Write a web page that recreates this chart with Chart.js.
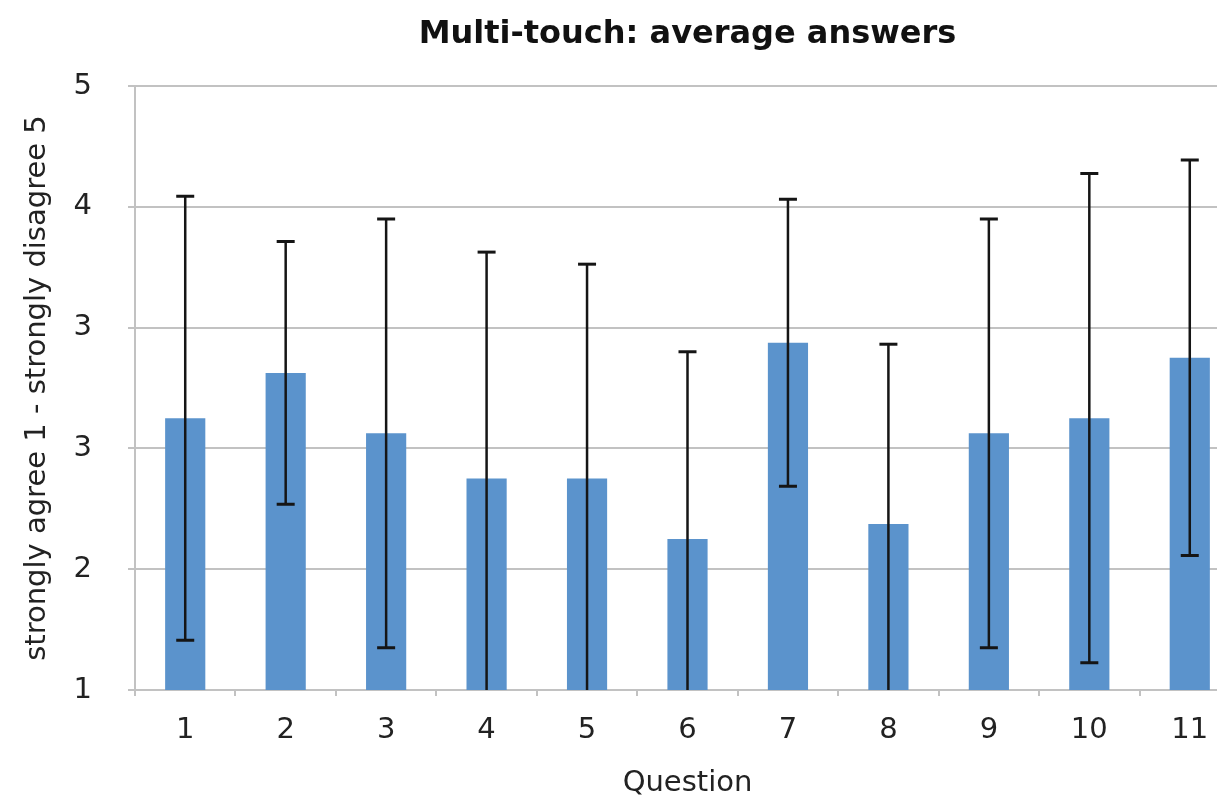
<!DOCTYPE html>
<html lang="en">
<head>
    <meta charset="UTF-8">
    <title>Multi-touch: average answers</title>
    <script src="https://cdn.jsdelivr.net/npm/chart.js"></script>
    <style>
        html, body { margin: 0; padding: 0; background: #fff; overflow: hidden; }
        canvas { display: block; }
    </style>
</head>
<body>
    <canvas id="answersChart" width="1242" height="798"></canvas>

    <script>
        // data
        const questions = ['1', '2', '3', '4', '5', '6', '7', '8', '9', '10', '11'];
        const averages = [2.8, 3.1, 2.7, 2.4, 2.4, 2.0, 3.3, 2.1, 2.7, 2.8, 3.2];
        const stdDev = [1.47, 0.87, 1.42, 1.50, 1.42, 1.24, 0.95, 1.19, 1.42, 1.62, 1.31];
        const yTickLabels = ['1', '2', '3', '3', '4', '5'];

        const chartTitle = 'Multi-touch: average answers';
        const fontFamily = '"DejaVu Sans", sans-serif';
        const textColor = '#222';
        const gridColor = '#c2c2c2';

        // title centred over the plot area
        const titlePlugin = {
            id: 'plotTitle',
            afterDraw(chart) {
                const { ctx, chartArea } = chart;
                ctx.save();
                ctx.font = 'bold 32px ' + fontFamily;
                ctx.fillStyle = '#111';
                ctx.textAlign = 'center';
                ctx.textBaseline = 'alphabetic';
                ctx.fillText(chartTitle, (chartArea.left + chartArea.right) / 2, 43);
                ctx.restore();
            }
        };

        // +/- one standard deviation
        const errorBars = {
            id: 'errorBars',
            afterDatasetsDraw(chart) {
                const { ctx, chartArea, scales } = chart;
                const meta = chart.getDatasetMeta(0);
                ctx.save();
                ctx.beginPath();
                ctx.rect(chartArea.left, chartArea.top - 20, chartArea.width, chartArea.height + 20);
                ctx.clip();
                ctx.strokeStyle = '#151515';
                ctx.lineWidth = 2.5;
                meta.data.forEach((bar, i) => {
                    const x = bar.x;
                    const top = scales.y.getPixelForValue(averages[i] + stdDev[i]);
                    const bottom = scales.y.getPixelForValue(averages[i] - stdDev[i]);
                    ctx.beginPath();
                    ctx.moveTo(x, top);
                    ctx.lineTo(x, Math.min(bottom, chartArea.bottom));
                    ctx.stroke();
                    ctx.lineWidth = 3;
                    ctx.beginPath();
                    ctx.moveTo(x - 9, top);
                    ctx.lineTo(x + 9, top);
                    if (bottom <= chartArea.bottom) {
                        ctx.moveTo(x - 9, bottom);
                        ctx.lineTo(x + 9, bottom);
                    }
                    ctx.stroke();
                    ctx.lineWidth = 2.5;
                });
                ctx.restore();
            }
        };

        const ctx = document.getElementById('answersChart').getContext('2d');
        new Chart(ctx, {
            type: 'bar',
            data: {
                labels: questions,
                datasets: [{
                    data: averages,
                    backgroundColor: '#5b93cc',
                    barPercentage: 0.4,
                    categoryPercentage: 1.0,
                }],
            },
            options: {
                responsive: false,
                animation: false,
                devicePixelRatio: 1,
                layout: { padding: { top: 86, right: 2, bottom: 0, left: 0 } },
                plugins: {
                    legend: { display: false },
                    tooltip: { enabled: false },
                },
                scales: {
                    x: {
                        afterFit: (scale) => { scale.height = 108; },
                        grid: {
                            drawOnChartArea: false,
                            drawTicks: true,
                            tickLength: 6,
                            color: gridColor,
                            lineWidth: 2,
                        },
                        border: { color: gridColor, width: 2 },
                        ticks: {
                            color: textColor,
                            padding: 17,
                            maxRotation: 0,
                            font: { family: fontFamily, size: 29 },
                        },
                        title: {
                            display: true,
                            text: 'Question',
                            color: textColor,
                            padding: { top: 0, bottom: -3 },
                            font: { family: fontFamily, size: 29 },
                        },
                    },
                    y: {
                        min: 1,
                        max: 5,
                        afterFit: (scale) => { scale.width = 135; },
                        grid: {
                            color: gridColor,
                            lineWidth: 2,
                            tickLength: 7,
                        },
                        border: { color: gridColor, width: 2 },
                        ticks: {
                            stepSize: 0.8,
                            color: textColor,
                            padding: 36,
                            font: { family: fontFamily, size: 29 },
                            callback: (value, index) => yTickLabels[index],
                        },
                        title: {
                            display: true,
                            text: 'strongly agree 1 - strongly disagree 5',
                            color: textColor,
                            padding: { top: 20, bottom: 0 },
                            font: { family: fontFamily, size: 29 },
                        },
                    },
                },
            },
            plugins: [errorBars, titlePlugin],
        });
    </script>
</body>
</html>
